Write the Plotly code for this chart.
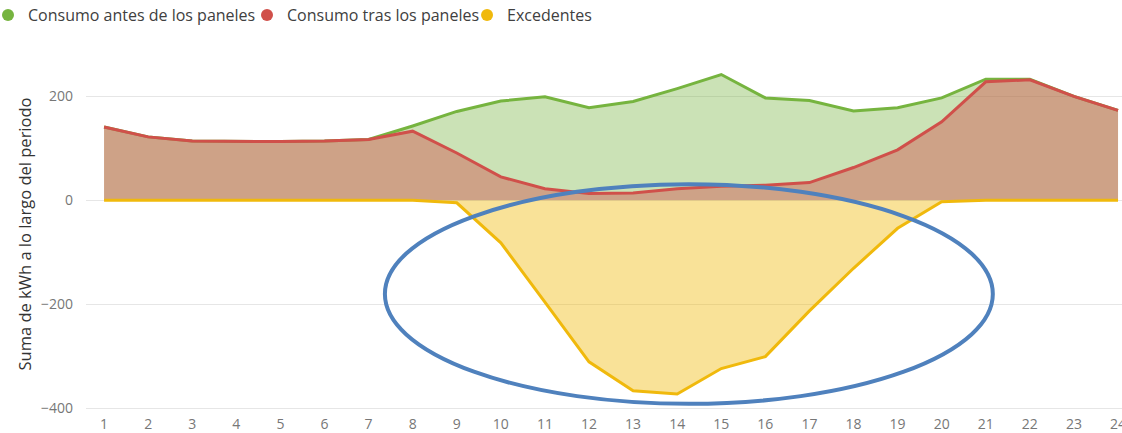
import plotly.graph_objects as go

hours = list(range(1, 25))
consumo_antes = [141, 122, 114, 113, 113, 114, 117, 143, 171, 191, 199, 178, 190, 215, 242, 197, 192, 172, 178, 197, 233, 233, 200, 173]
consumo_tras = [141, 122, 114, 113, 113, 114, 117, 133, 91, 45, 22, 13, 14, 22, 27, 29, 34, 63, 97, 151, 228, 232, 200, 173]
excedentes = [0, 0, 0, 0, 0, 0, 0, 0, -5, -82, -196, -311, -367, -373, -324, -301, -213, -131, -54, -3, 0, 0, 0, 0]

names = ["Consumo antes de los paneles", "Consumo tras los paneles", "Excedentes"]
series = [consumo_antes, consumo_tras, excedentes]
line_colors = ["#76B43F", "#D0504A", "#F0B90C"]
fill_colors = ["rgba(118,180,63,0.38)", "rgba(209,80,74,0.44)", "rgba(240,185,10,0.42)"]
legend_ids = ["legend", "legend2", "legend3"]
legend_x = [-0.0946, 0.1554, 0.3678]

fig = go.Figure()
for name, vals, lc, fc in zip(names, series, line_colors, fill_colors):
    fig.add_trace(go.Scatter(x=hours, y=vals, mode="lines", fill="tozeroy",
                             fillcolor=fc, line=dict(color=lc, width=3),
                             name=name, showlegend=False))
for name, lc, lid in zip(names, line_colors, legend_ids):
    fig.add_trace(go.Scatter(x=[None], y=[None], mode="markers",
                             marker=dict(color=lc, size=12, symbol="circle"),
                             name=name, showlegend=True, legend=lid))

fig.add_shape(type="circle", xref="x", yref="y", x0=7.37, x1=21.16, y0=-392, y1=31,
              line=dict(color="#4F81BD", width=4), fillcolor="rgba(0,0,0,0)", layer="above")

legend_common = dict(orientation="h", y=1.1293, xanchor="left", yanchor="middle",
                     font=dict(size=16, color="#404040"), itemwidth=30,
                     bgcolor="rgba(0,0,0,0)", borderwidth=0)
layout_legends = {lid: dict(x=lx, **legend_common) for lid, lx in zip(legend_ids, legend_x)}

fig.update_layout(
    width=1122, height=433,
    margin=dict(l=86, r=0, t=60, b=25, autoexpand=False),
    paper_bgcolor="white", plot_bgcolor="white",
    font=dict(family="Open Sans, DejaVu Sans, sans-serif", color="#555"),
    xaxis=dict(range=[0.59, 24.09], tickmode="array", tickvals=hours,
               ticktext=[str(h) for h in hours], showgrid=False, zeroline=False,
               showline=True, linecolor="#E6E6E6", linewidth=1,
               tickfont=dict(size=14, color="#777"), ticks="", ticklen=0,
               ticklabelstandoff=3, ticklabeloverflow="allow"),
    yaxis=dict(range=[-400, 270], tickvals=[-400, -200, 0, 200], showgrid=True,
               gridcolor="#E6E6E6", gridwidth=1, zeroline=True, zerolinecolor="#E6E6E6",
               zerolinewidth=1, tickfont=dict(size=14, color="#777"),
               ticklabelstandoff=12,
               title=dict(text="Suma de kWh a lo largo del periodo",
                          font=dict(size=16.5, color="#333"), standoff=5)),
    **layout_legends,
)

fig.write_html("out.html", config={"displayModeBar": False},
               post_script="document.body.style.margin='0';")
